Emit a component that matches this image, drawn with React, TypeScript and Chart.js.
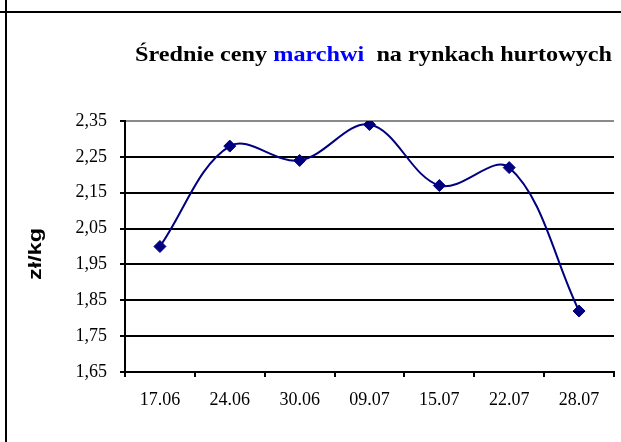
import React, { useEffect, useRef } from "react";
import { Chart, registerables } from "chart.js";

Chart.register(...registerables);

const categories = ["17.06", "24.06", "30.06", "09.07", "15.07", "22.07", "28.07"];
const prices = [2.0, 2.28, 2.24, 2.34, 2.17, 2.22, 1.82];
const yMin = 1.65;
const yMax = 2.35;
const yStep = 0.1;
const titleParts = [
  { text: "Średnie ceny ", color: "#000000" },
  { text: "marchwi", color: "#0000FF" },
  { text: "  na rynkach hurtowych", color: "#000000" },
];
const yAxisLabel = "zł/kg";

const W = 621;
const H = 442;

const decorPlugin = {
  id: "decor",
  afterDraw(chart: any) {
    const ctx = chart.ctx as CanvasRenderingContext2D;
    ctx.save();
    // frame
    ctx.strokeStyle = "#000";
    ctx.lineWidth = 2;
    ctx.beginPath();
    ctx.moveTo(6, 0);
    ctx.lineTo(6, H);
    ctx.moveTo(0, 12);
    ctx.lineTo(W, 12);
    ctx.stroke();

    // title
    ctx.font = 'bold 21px "Liberation Serif", "Times New Roman", serif';
    ctx.textBaseline = "alphabetic";
    ctx.textAlign = "left";
    const total = titleParts.reduce((s, p) => s + ctx.measureText(p.text).width, 0);
    const target = 477;
    const sx = target / total;
    ctx.save();
    ctx.translate(135, 61);
    ctx.scale(sx, 1);
    let x = 0;
    for (const p of titleParts) {
      ctx.fillStyle = p.color;
      ctx.fillText(p.text, x, 0);
      x += ctx.measureText(p.text).width;
    }
    ctx.restore();

    // y axis label
    ctx.font = 'bold 18px "Liberation Sans", Arial, sans-serif';
    const lw = ctx.measureText(yAxisLabel).width;
    const s2 = 52 / lw;
    ctx.save();
    ctx.translate(36, 254);
    ctx.rotate(-Math.PI / 2);
    ctx.scale(s2, 1);
    ctx.fillStyle = "#000";
    ctx.textAlign = "center";
    ctx.textBaseline = "middle";
    ctx.fillText(yAxisLabel, 0, 0);
    ctx.restore();

    ctx.restore();
  },
};

export default function App() {
  const ref = useRef<HTMLCanvasElement | null>(null);
  useEffect(() => {
    document.body.style.margin = "0";
    const canvas = ref.current!;
    const chart = new Chart(canvas, {
      type: "line",
      data: {
        labels: categories,
        datasets: [
          {
            data: prices,
            borderColor: "#000080",
            backgroundColor: "#000080",
            borderWidth: 2,
            pointStyle: "rectRot",
            pointRadius: 6,
            pointHoverRadius: 6,
            pointBorderWidth: 1,
            tension: 0.36,
            fill: false,
          },
        ],
      },
      options: {
        animation: false,
        responsive: false,
        maintainAspectRatio: false,
        devicePixelRatio: 1,
        layout: { padding: { top: 121, left: 0, right: 0, bottom: 0 } },
        plugins: {
          legend: { display: false },
          title: { display: false },
          tooltip: { enabled: false },
        },
        scales: {
          x: {
            type: "category",
            offset: true,
            afterFit(scale: any) {
              scale.height = H - 372;
            },
            grid: {
              display: true,
              offset: true,
              drawOnChartArea: false,
              drawTicks: true,
              tickLength: 5,
              color: "#000",
              lineWidth: 2,
            },
            border: { display: true, color: "#000", width: 2 },
            ticks: {
              color: "#000",
              padding: 12,
              maxRotation: 0,
              autoSkip: false,
              font: { family: '"Liberation Serif", "Times New Roman", serif', size: 18 },
            },
          },
          y: {
            min: yMin,
            max: yMax,
            afterFit(scale: any) {
              scale.width = 125;
            },
            grid: {
              color: (c: any) =>
                c.tick && Math.abs(c.tick.value - yMax) < 1e-6 ? "#8a8a8a" : "#000",
              tickColor: "#000",
              lineWidth: 2,
              drawTicks: true,
              tickLength: 5,
            },
            border: { display: true, color: "#000", width: 2 },
            ticks: {
              stepSize: yStep,
              color: "#000",
              padding: 13,
              font: { family: '"Liberation Serif", "Times New Roman", serif', size: 18 },
              callback: (v: any) => Number(v).toFixed(2).replace(".", ","),
            },
          },
        },
      },
      plugins: [decorPlugin],
    });
    return () => chart.destroy();
  }, []);
  return (
    <div style={{ position: "absolute", left: 0, top: 0, width: W, height: H, background: "#fff" }}>
      <canvas ref={ref} width={W} height={H} style={{ display: "block", width: W, height: H }} />
    </div>
  );
}
